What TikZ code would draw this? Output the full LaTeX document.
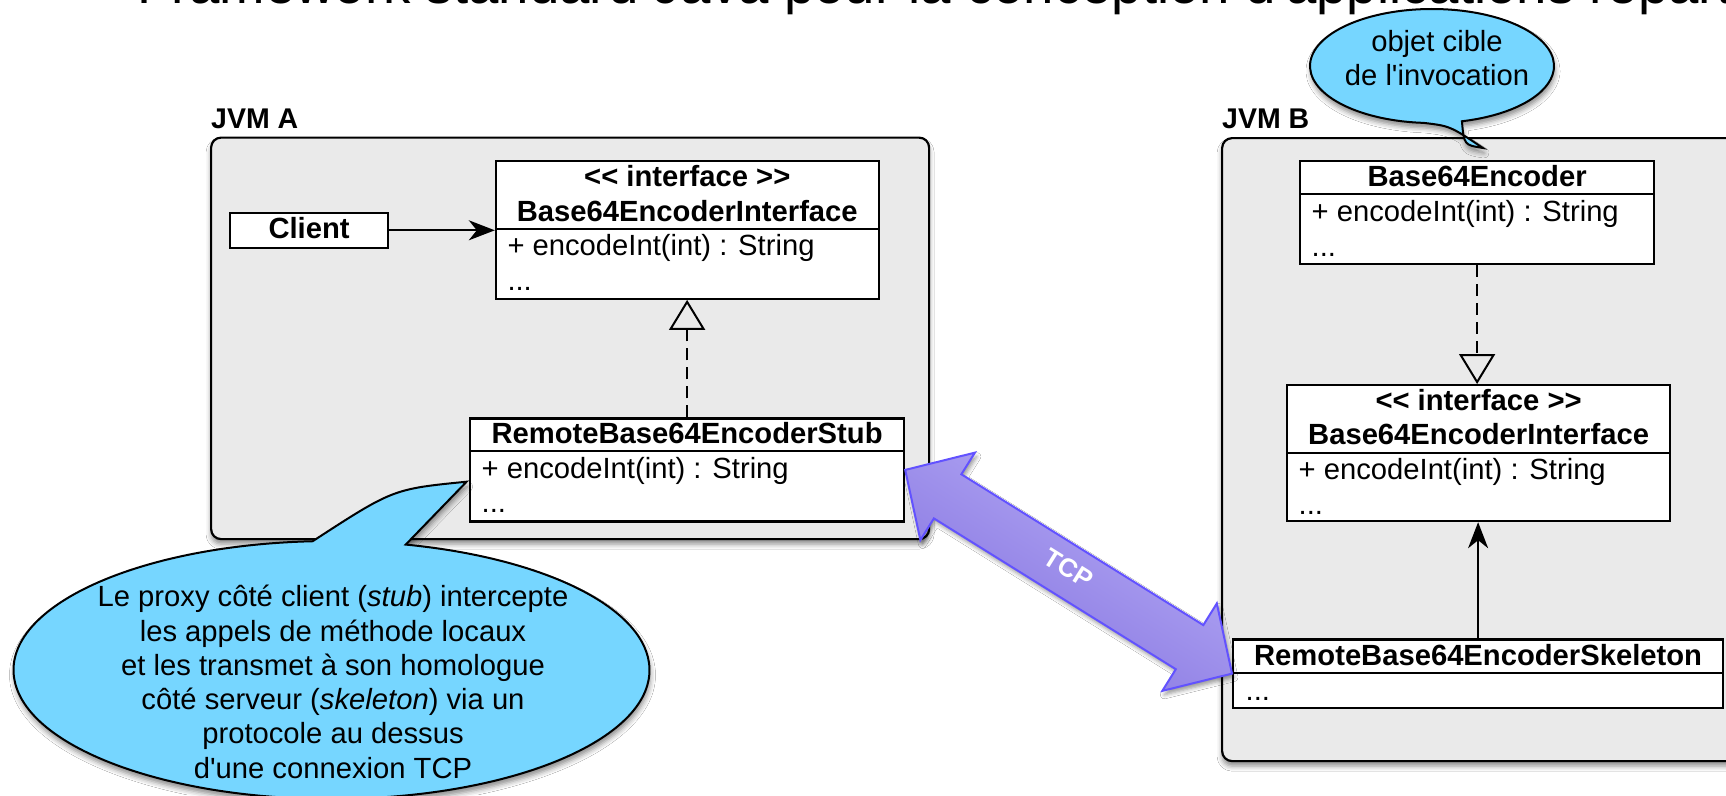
\documentclass[tikz,border=0pt]{standalone}
\usepackage{fontspec}
\newfontfamily\uisans{Liberation Sans}
\usetikzlibrary{arrows.meta,calc,shadows.blur}

\definecolor{jvmgray}{RGB}{234,234,234}
\definecolor{bubbleblue}{RGB}{118,214,255}
\definecolor{tcpedge}{RGB}{98,82,255}
\definecolor{tcplight}{RGB}{184,174,247}
\definecolor{tcpdark}{RGB}{130,112,222}

\tikzset{
  jvm/.style={draw=black, line width=2.2pt, fill=jvmgray, rounded corners=10pt,
    rectangle, inner sep=0pt, anchor=north west,
    blur shadow={shadow xshift=0pt, shadow yshift=-5pt, shadow blur radius=5pt, shadow opacity=45}},
  jvmlabel/.style={font=\uisans\bfseries\fontsize{28.5}{34}\selectfont, anchor=base west, inner sep=0pt},
  classbox/.style={draw=black, line width=2.2pt, fill=white, rectangle, inner sep=0pt, anchor=north west},
  divider/.style={line width=2.2pt},
  classname/.style={font=\uisans\bfseries\fontsize{29.2}{34.5}\selectfont, anchor=base, inner sep=0pt},
  member/.style={font=\uisans\fontsize{29.2}{34.5}\selectfont, anchor=base west, inner sep=0pt},
  assoc/.style={line width=2pt, -{Stealth[length=26pt, width=20pt, inset=8pt]}},
  realize/.style={line width=2pt, dash pattern=on 12pt off 7pt, -{Triangle[open, length=30pt, width=36pt]}},
  bubble/.style={draw=black, line width=2pt, fill=bubbleblue,
    blur shadow={shadow xshift=1pt, shadow yshift=-5pt, shadow blur radius=5pt, shadow opacity=45}},
  bubbletext/.style={font=\uisans\fontsize{29.2}{34.3}\selectfont, anchor=base, inner sep=0pt},
  tcpbody/.style={draw=tcpedge, line width=2pt, line join=miter,
    top color=tcplight, bottom color=tcpdark, shading angle=-32,
    blur shadow={shadow xshift=2pt, shadow yshift=-4pt, shadow blur radius=4pt, shadow opacity=40}},
  tcplabel/.style={font=\uisans\bfseries\fontsize{26}{26}\selectfont, text=white, rotate=-32, inner sep=0pt},
}

\begin{document}
\begin{tikzpicture}[x=1pt, y=-1pt]
\useasboundingbox (0,0) rectangle (1726,795);
\fill[white] (0,0) rectangle (1726,795);
\clip (0,0) rectangle (1726,795);

% slide heading, cut by the upper edge
\node[font=\uisans\fontsize{54.6}{60}\selectfont, anchor=base west, inner sep=0pt] (title)
  at (137.6,3) {Framework standard Java pour la conception d'applications réparties};

% ---------------- the two virtual machines ----------------
\node[jvm, minimum width=718pt, minimum height=401.5pt] (jvmA) at (210,136.5) {};
\node[jvmlabel] (jvmAlabel) at (211,128) {JVM A};
\node[jvm, minimum width=540pt, minimum height=623pt] (jvmB) at (1221,137) {};
\node[jvmlabel] (jvmBlabel) at (1222,128) {JVM B};

% ---------------- JVM A ----------------
\node[classbox, minimum width=158pt, minimum height=35pt] (client) at (229,211.7) {};
\node[classname] (clientname) at ($(client.north)+(0,26.3)$) {Client};

\node[classbox, minimum width=382.8pt, minimum height=137.7pt] (ifA) at (494.8,160) {};
\draw[divider] ($(ifA.north west)+(0,69)$) -- ($(ifA.north east)+(0,69)$);
\node[classname] (ifAstereo) at ($(ifA.north)+(0,26.7)$) {{<}{<} interface {>}{>}};
\node[classname] (ifAname) at ($(ifA.north)+(0,61.7)$) {Base64EncoderInterface};
\node[member] (ifAop) at ($(ifA.north west)+(12.5,95)$) {+ encodeInt(int) : String};
\node[member] (ifAmore) at ($(ifA.north west)+(12.5,130)$) {...};

\node[classbox, minimum width=434pt, minimum height=103pt] (stubA) at (469,417.3) {};
\draw[divider] ($(stubA.north west)+(0,33.7)$) -- ($(stubA.north east)+(0,33.7)$);
\node[classname] (stubname) at ($(stubA.north)+(0,26)$) {RemoteBase64EncoderStub};
\node[member] (stubop) at ($(stubA.north west)+(12.5,60.7)$) {+ encodeInt(int) : String};
\node[member] (stubmore) at ($(stubA.north west)+(12.5,95.4)$) {...};

\draw[assoc] (client.east) -- (client.east -| ifA.west);
\draw[realize] (stubA.north) -- (stubA.north |- ifA.south);

% ---------------- JVM B ----------------
\node[classbox, minimum width=354pt, minimum height=103.3pt] (b64) at (1299,159.7) {};
\draw[divider] ($(b64.north west)+(0,34.3)$) -- ($(b64.north east)+(0,34.3)$);
\node[classname] (b64name) at ($(b64.north)+(0,26.3)$) {Base64Encoder};
\node[member] (b64op) at ($(b64.north west)+(12.5,62)$) {+ encodeInt(int) : String};
\node[member] (b64more) at ($(b64.north west)+(12.5,96.3)$) {...};

\node[classbox, minimum width=383pt, minimum height=136pt] (ifB) at (1286,384) {};
\draw[divider] ($(ifB.north west)+(0,68.6)$) -- ($(ifB.north east)+(0,68.6)$);
\node[classname] (ifBstereo) at ($(ifB.north)+(0,26.7)$) {{<}{<} interface {>}{>}};
\node[classname] (ifBname) at ($(ifB.north)+(0,60.5)$) {Base64EncoderInterface};
\node[member] (ifBop) at ($(ifB.north west)+(12.5,95.5)$) {+ encodeInt(int) : String};
\node[member] (ifBmore) at ($(ifB.north west)+(12.5,130.5)$) {...};

\node[classbox, minimum width=490pt, minimum height=68.4pt] (skel) at (1232,638.3) {};
\draw[divider] ($(skel.north west)+(0,35)$) -- ($(skel.north east)+(0,35)$);
\node[classname] (skelname) at ($(skel.north)+(0,26.7)$) {RemoteBase64EncoderSkeleton};
\node[member] (skelmore) at ($(skel.north west)+(13.5,61.7)$) {...};

\draw[realize] (b64.south) -- (b64.south |- ifB.north);
\draw[assoc] (skel.north) -- (skel.north |- ifB.south);

% ---------------- TCP link between stub and skeleton ----------------
\coordinate (tL) at (stubA.east);
\coordinate (tR) at (skel.west);
\path[tcpbody] (tL)
  -- ($(tL)!50pt!(tR)!51.5pt!90:(tR)$)
  -- ($(tL)!50pt!(tR)!26pt!90:(tR)$)
  -- ($(tR)!50pt!(tL)!26pt!-90:(tL)$)
  -- ($(tR)!50pt!(tL)!51.5pt!-90:(tL)$)
  -- (tR)
  -- ($(tR)!50pt!(tL)!51.5pt!90:(tL)$)
  -- ($(tR)!50pt!(tL)!26pt!90:(tL)$)
  -- ($(tL)!50pt!(tR)!26pt!-90:(tR)$)
  -- ($(tL)!50pt!(tR)!51.5pt!-90:(tR)$)
  -- cycle;
\node[tcplabel] (tcp) at ($(tL)!0.5!(tR)+(0,-3)$) {TCP};

% ---------------- callouts ----------------
\coordinate (objC) at (1432,66);
\path[bubble] ($(objC)+(266:122pt and 57pt)$)
  arc[start angle=266, end angle=-75.8, x radius=122pt, y radius=57pt]
  .. controls (1464,145) .. (1483,148)
  .. controls (1450,126) .. cycle;
\node[bubbletext, font=\uisans\fontsize{29.2}{33.3}\selectfont] (objnote) at (1437,51.7)
  {\begin{tabular}[t]{@{}c@{}}objet cible\\ de l'invocation\end{tabular}};

\coordinate (stubC) at (331.5,670);
\path[bubble] ($(stubC)+(93.4:318pt and 129pt)$)
  arc[start angle=93.4, end angle=436.5, x radius=318pt, y radius=129pt]
  .. controls (436,513) .. (466.6,481.7)
  .. controls (393,489) .. cycle;
\node[bubbletext] (stubnote) at (333,606.7)
  {\begin{tabular}[t]{@{}c@{}}Le proxy côté client (\textit{stub}) intercepte\\
   les appels de méthode locaux\\
   et les transmet à son homologue\\
   côté serveur (\textit{skeleton}) via un\\
   protocole au dessus\\
   d'une connexion TCP\end{tabular}};
\end{tikzpicture}
\end{document}
